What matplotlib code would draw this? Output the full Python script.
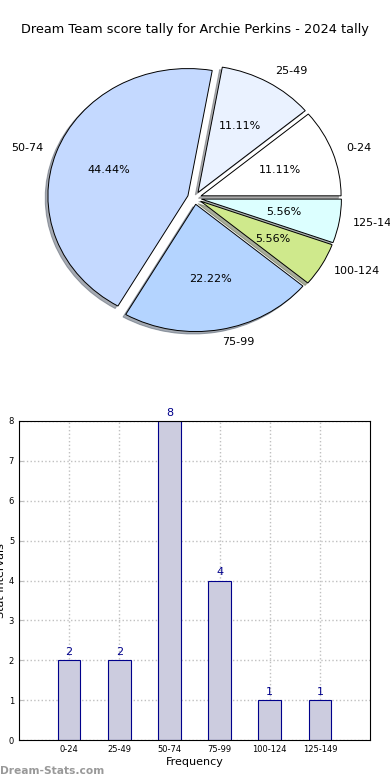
import matplotlib
matplotlib.use('Agg')
import matplotlib.pyplot as plt

title = "Dream Team score tally for Archie Perkins - 2024 tally"
intervals = ['0-24', '25-49', '50-74', '75-99', '100-124', '125-149']
counts = [2, 2, 8, 4, 1, 1]
pie_colors = ['#ffffff', '#eaf2ff', '#c4d9ff', '#b4d4ff', '#cfe98c', '#dcffff']

W, H = 390, 780
fig = plt.figure(figsize=(W / 100, H / 100), dpi=100)
fig.text(0.5, 1 - 30 / H, title, ha='center', va='center', fontsize=9.3)

# pie, placed in pixels (slightly squashed vertically like the original)
cx, cy, r = 194.5, 198, 140
L = 1.3
S = 2 * L * r
ax1 = fig.add_axes([(cx - S / 2) / W, (H - cy - S / 2) / H, S / W, S / H])
explode = [0.05] * len(counts)
wedges, texts, autotexts = ax1.pie(counts, labels=intervals, colors=pie_colors,
                                   explode=explode, autopct='%.2f%%',
                                   shadow={'ox': -0.014, 'oy': -0.014, 'shade': 0.6},
                                   startangle=0, counterclock=True,
                                   wedgeprops={'edgecolor': 'black', 'linewidth': 0.7})
plt.setp(texts, fontsize=8)
plt.setp(autotexts, fontsize=8)
ax1.set_aspect('auto')
ax1.set_xlim(-L, L)
ax1.set_ylim(-L * 1.1, L * 1.1)
ax1.axis('off')

# bar chart
ax2 = fig.add_axes([19 / W, 40 / H, 351 / W, 319 / H])
x = list(range(len(counts)))
ax2.bar(x, counts, width=0.45, color='#ccccdf', edgecolor='#00008b', linewidth=0.8, zorder=2)
for xi, c in zip(x, counts):
    ax2.text(xi, c + 0.08, str(c), ha='center', va='bottom', fontsize=8, color='#00008b')
ax2.set_xlim(-1, 6)
ax2.set_ylim(0, 8)
ax2.set_xticks(x)
ax2.set_xticklabels(intervals, fontsize=6)
ax2.tick_params(axis='y', labelsize=6)
ax2.tick_params(direction='in', length=3, color='#bbbbbb')
ax2.grid(True, linestyle=':', color='#c0c0c0', linewidth=1, zorder=0)
ax2.set_axisbelow(True)
ax2.set_xlabel('Frequency', fontsize=8, labelpad=2)
ax2.set_ylabel('Stat Intervals', fontsize=8, labelpad=2)

fig.text(0, 1 - 771 / H, 'Dream-Stats.com', ha='left', va='center', fontsize=7.7,
         color='#999999', fontweight='bold')

fig.savefig('out.png', dpi=100)
